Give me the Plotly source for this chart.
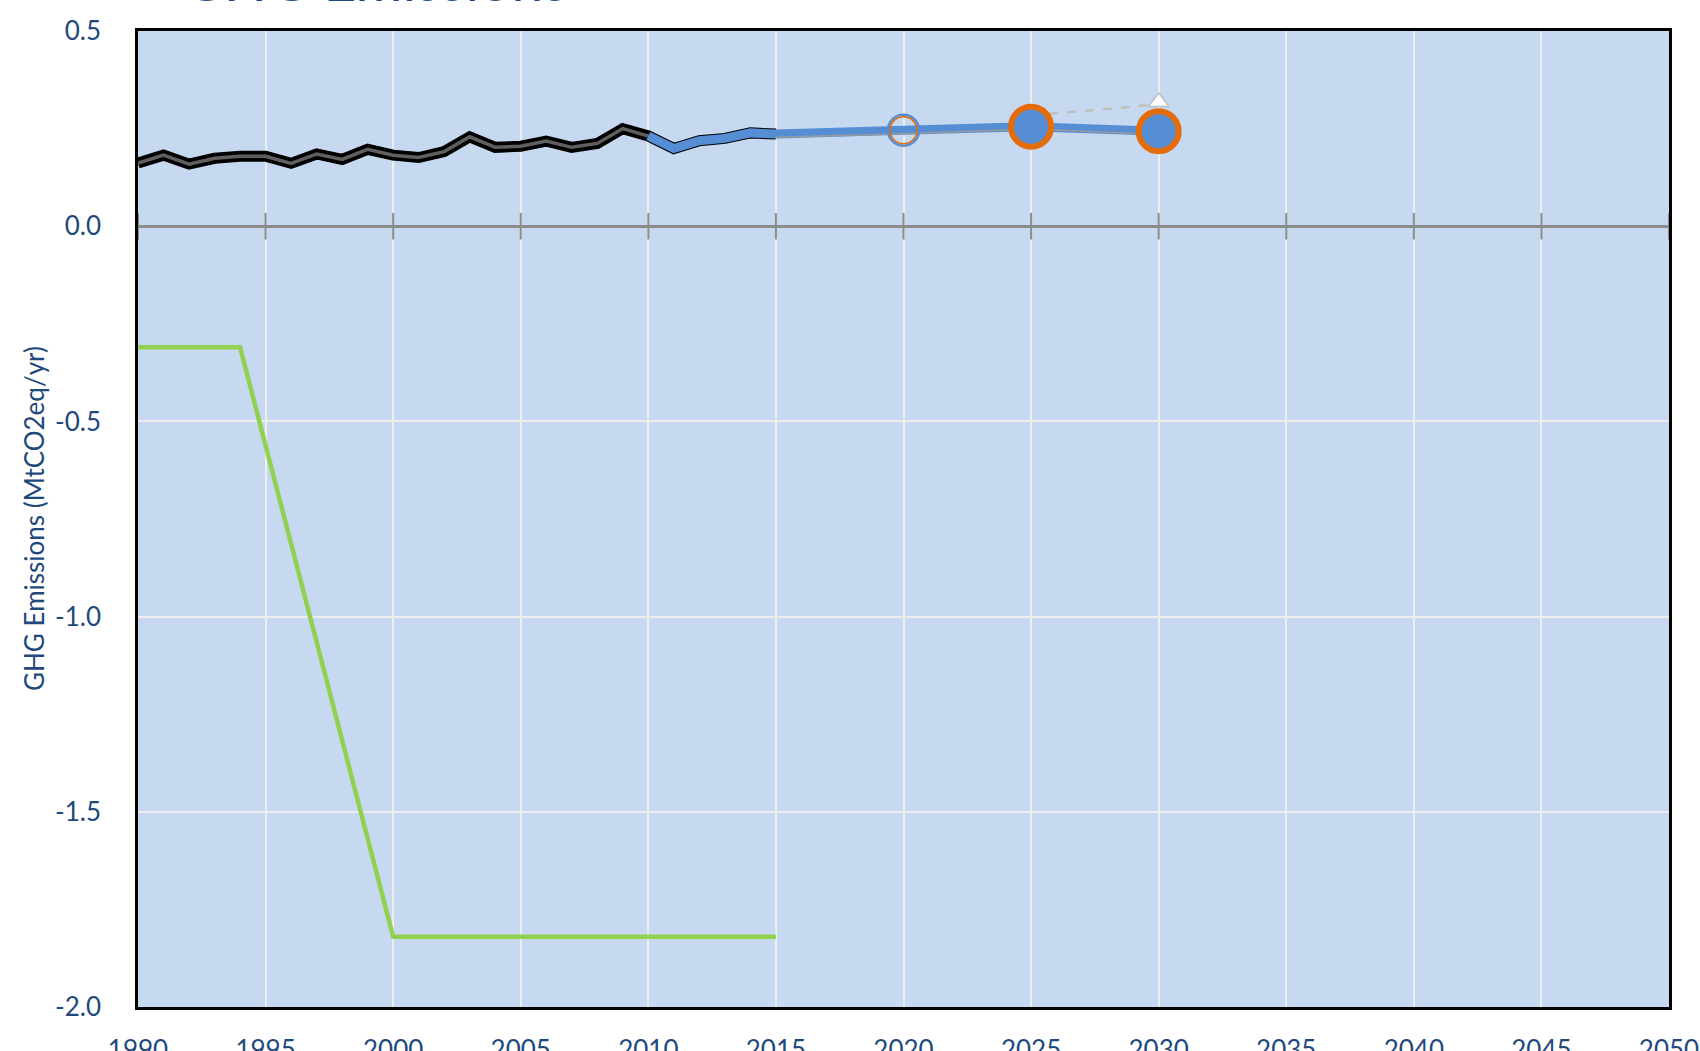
import plotly.graph_objects as go

# ---------------- data ----------------
hist_years = list(range(1990, 2016))
hist_values = [0.162, 0.182, 0.159, 0.174, 0.179, 0.179, 0.161, 0.185, 0.171, 0.197,
               0.182, 0.176, 0.191, 0.229, 0.202, 0.205, 0.218, 0.202, 0.212, 0.250,
               0.231, 0.199, 0.219, 0.225, 0.239, 0.236]

proj_years = [2010, 2011, 2012, 2013, 2014, 2015, 2020, 2025, 2030]
proj_values = [0.231, 0.199, 0.219, 0.225, 0.239, 0.236, 0.246, 0.255, 0.243]

ref_years = [2015, 2020, 2025, 2030]
ref_values = [0.228, 0.237, 0.249, 0.235]

target_years = [2025, 2030]
target_values = [0.284, 0.312]

sink_years = [1990, 1994, 2000, 2015]
sink_values = [-0.31, -0.31, -1.82, -1.82]

open_marker_years = [2020]
open_marker_values = [0.246]

key_years = [2025, 2030]
key_values = [0.255, 0.243]

tri_years = [2030]
tri_values = [0.318]

x_ticks = list(range(1990, 2051, 5))
y_ticks = [0.5, 0.0, -0.5, -1.0, -1.5, -2.0]

title_text = "GHG Emissions"
y_title = "GHG Emissions (MtCO2eq/yr)"

# ---------------- styles ----------------
FONT = "Lato"
TXT = "#1F497D"
BLUE = "#558ED5"
ORANGE = "#E46C0A"
GREEN = "#92D050"

ML, MR, MT, MB = 138, 31, 31, 44
PW = 1700 - ML - MR
PH = 1051 - MT - MB

fig = go.Figure()

# zero-axis tick marks
fig.add_trace(go.Scatter(x=x_ticks, y=[0] * len(x_ticks), mode="markers",
                         marker=dict(symbol="line-ns", size=19,
                                     line=dict(color="#8C8C8C", width=2)),
                         hoverinfo="skip", cliponaxis=False))

fig.add_trace(go.Scatter(x=sink_years, y=sink_values, mode="lines",
                         line=dict(color=GREEN, width=4.5)))

fig.add_trace(go.Scatter(x=hist_years, y=hist_values, mode="lines",
                         line=dict(color="#000000", width=11)))
fig.add_trace(go.Scatter(x=hist_years, y=hist_values, mode="lines",
                         line=dict(color="#5F5F5F", width=3.5)))

fig.add_trace(go.Scatter(x=proj_years, y=proj_values, mode="lines",
                         line=dict(color=BLUE, width=9)))
fig.add_trace(go.Scatter(x=ref_years, y=ref_values, mode="lines",
                         line=dict(color="#9A9A9A", width=1.5)))

fig.add_trace(go.Scatter(x=target_years, y=target_values, mode="lines",
                         line=dict(color="#BFBFBF", width=2.5, dash="dash")))
fig.add_trace(go.Scatter(x=tri_years, y=tri_values, mode="markers",
                         marker=dict(symbol="triangle-up", size=18, color="#FFFFFF",
                                     line=dict(color="#BFBFBF", width=1.5))))

fig.add_trace(go.Scatter(x=open_marker_years, y=open_marker_values, mode="markers",
                         marker=dict(symbol="circle-open", size=31, color=BLUE,
                                     line=dict(width=2.5))))
fig.add_trace(go.Scatter(x=open_marker_years, y=open_marker_values, mode="markers",
                         marker=dict(symbol="circle-open", size=27, color=ORANGE,
                                     line=dict(width=1.5))))

fig.add_trace(go.Scatter(x=key_years, y=key_values, mode="markers",
                         marker=dict(symbol="circle", size=40, color=BLUE,
                                     line=dict(color=ORANGE, width=6))))

fig.update_layout(
    width=1700, height=1051,
    margin=dict(l=ML, r=MR, t=MT, b=MB, pad=0, autoexpand=False),
    paper_bgcolor="#FFFFFF",
    plot_bgcolor="#C6D9F0",
    showlegend=False,
    font=dict(family=FONT, color=TXT, size=26),
)

fig.update_xaxes(
    range=[1990, 2050], tickvals=x_ticks, ticktext=[str(v) for v in x_ticks],
    showgrid=True, gridcolor="#EEEEEE", gridwidth=2, automargin=False,
    zeroline=False, showline=True, mirror=True, linecolor="#000000", linewidth=2.5,
    ticks="", tickfont=dict(family=FONT, size=26, color=TXT),
    ticklabelstandoff=18,
)
fig.update_yaxes(
    range=[-2.0, 0.5], tickvals=y_ticks, ticktext=[f"{v:.1f}" for v in y_ticks],
    showgrid=True, gridcolor="#EEEEEE", gridwidth=2, automargin=False,
    zeroline=True, zerolinecolor="#8C8C8C", zerolinewidth=2.5,
    showline=True, mirror=True, linecolor="#000000", linewidth=2.5,
    ticks="", tickfont=dict(family=FONT, size=26, color=TXT),
    ticklabelstandoff=29,
)

fig.add_annotation(text=y_title, xref="paper", yref="paper",
                   x=(34 - ML) / PW, y=0.5, xanchor="center", yanchor="middle",
                   textangle=-90, showarrow=False,
                   font=dict(family=FONT, size=26, color=TXT))

fig.add_annotation(text=title_text, xref="paper", yref="paper",
                   x=(374.5 - ML) / PW, y=1 + (MT - 15) / PH,
                   xanchor="center", yanchor="bottom", showarrow=False,
                   font=dict(family=FONT, size=57, color=TXT))

fig.write_html("out.html", config={"displayModeBar": False},
               post_script="document.body.style.margin='0px';")
